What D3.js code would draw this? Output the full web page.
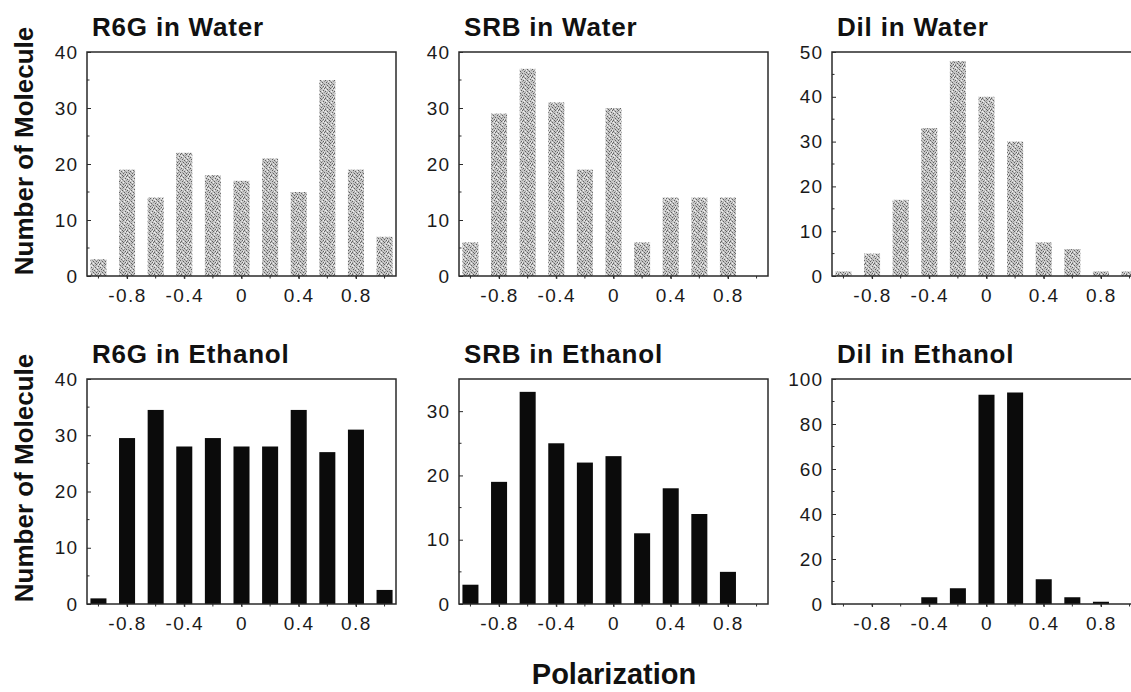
<!DOCTYPE html>
<html><head><meta charset="utf-8">
<script src="https://cdn.jsdelivr.net/npm/d3@7"></script>
<style>body{margin:0;background:#fff}svg{display:block}</style>
</head><body>
<svg id="c" width="1131" height="692"></svg>
<script>
// ---- data ----
const polarization = [-1.0,-0.8,-0.6,-0.4,-0.2,0,0.2,0.4,0.6,0.8,1.0];
const xTickValues = [-0.8,-0.4,0,0.4,0.8];
const xTickLabels = ["-0.8","-0.4","0","0.4","0.8"];
const r6gWater   = [3,19,14,22,18,17,21,15,35,19,7];
const srbWater   = [6,29,37,31,19,30,6,14,14,14,0];
const dilWater   = [1,5,17,33,48,40,30,7.5,6,1,1];
const r6gEthanol = [1,29.5,34.5,28,29.5,28,28,34.5,27,31,2.5];
const srbEthanol = [3,19,33,25,22,23,11,18,14,5,0];
const dilEthanol = [0,0,0,3,7,93,94,11,3,1,0];
const titles = ["R6G in Water","SRB in Water","Dil in Water","R6G in Ethanol","SRB in Ethanol","Dil in Ethanol"];
const series = [r6gWater,srbWater,dilWater,r6gEthanol,srbEthanol,dilEthanol];
const yMax = [40,40,50,40,35,100];
const yTicks = [[0,10,20,30,40],[0,10,20,30,40],[0,10,20,30,40,50],[0,10,20,30,40],[0,10,20,30],[0,20,40,60,80,100]];
const yMinor = [5,5,5,5,5,10];
const yLabel = "Number of Molecule";
const xLabel = "Polarization";

const svg = d3.select("#c");
const font = "'Liberation Sans', Arial, Helvetica, sans-serif";

// stipple pattern for water bars (hand placed specks)
const defs = svg.append("defs");
const pat = defs.append("pattern").attr("id","stip").attr("patternUnits","userSpaceOnUse")
  .attr("width",9).attr("height",11);
pat.append("rect").attr("width",9).attr("height",11).attr("fill","#c8c8c8");
const dark = [[0,0],[3,1],[6,0],[1,3],[5,3],[8,2],[2,5],[4,6],[7,5],[0,7],[3,8],[6,8],[8,9],[1,10],[5,10]];
dark.forEach(([x,y])=>pat.append("rect").attr("x",x).attr("y",y).attr("width",1).attr("height",1).attr("fill","#606060"));
const mid = [[2,0],[5,1],[0,4],[3,4],[6,4],[2,7],[5,7],[8,6],[1,9],[4,9],[7,10],[4,2],[7,7]];
mid.forEach(([x,y])=>pat.append("rect").attr("x",x).attr("y",y).attr("width",1).attr("height",1).attr("fill","#999"));
const light = [[1,1],[7,3],[4,4],[0,9],[6,6],[3,10],[8,0],[2,2]];
light.forEach(([x,y])=>pat.append("rect").attr("x",x).attr("y",y).attr("width",1).attr("height",1).attr("fill","#f0f0f0"));

const lefts = [87,459,832];
const tops = [52,379], bottoms = [276,604];
const pw = 309;

series.forEach((vals,i)=>{
  const col = i%3, row = Math.floor(i/3);
  const L = lefts[col], T = tops[row], B = bottoms[row];
  const x = d3.scaleLinear().domain([-1.08,1.08]).range([L,L+pw]);
  const y = d3.scaleLinear().domain([0,yMax[i]]).range([B,T]);
  const g = svg.append("g");
  const bw = x(0.056)-x(0);
  g.selectAll("rect.bar").data(vals).join("rect").attr("class","bar")
    .attr("x",(d,j)=>x(polarization[j])-bw)
    .attr("width",bw*2)
    .attr("y",d=>y(d))
    .attr("height",d=>B-y(d))
    .attr("fill", row===0 ? "url(#stip)" : "#0b0b0b");

  // frame
  g.append("rect").attr("x",L).attr("y",T).attr("width",pw).attr("height",B-T)
    .attr("fill","none").attr("stroke","#2a2a2a").attr("stroke-width",1.5);

  // y axis
  const ya = d3.axisLeft(y).tickValues(yTicks[i]).tickSize(-4).tickPadding(9).tickFormat(d=>String(d));
  const yg = g.append("g").attr("transform",`translate(${L},0)`).call(ya);
  yg.select(".domain").remove();
  yg.selectAll("line").attr("stroke","#2a2a2a");
  yg.selectAll("text").attr("font-family",font).attr("font-size",19).attr("fill","#1a1a1a").attr("letter-spacing","1");
  const minors = d3.range(yMinor[i], yMax[i], yMinor[i]*2);
  g.selectAll("line.ymin").data(minors).join("line").attr("class","ymin")
    .attr("x1",L).attr("x2",L+2.5).attr("y1",d=>y(d)).attr("y2",d=>y(d)).attr("stroke","#2a2a2a");

  // x axis
  const xa = d3.axisBottom(x).tickValues(xTickValues).tickSize(3).tickPadding(10)
    .tickFormat((d,k)=>xTickLabels[k]);
  const xg = g.append("g").attr("transform",`translate(0,${B})`).call(xa);
  xg.select(".domain").remove();
  xg.selectAll("line").attr("stroke","#2a2a2a");
  xg.selectAll("text").attr("font-family",font).attr("font-size",19).attr("fill","#1a1a1a").attr("letter-spacing","1.5");
  g.selectAll("line.xmin").data(polarization).join("line").attr("class","xmin")
    .attr("x1",d=>x(d)).attr("x2",d=>x(d)).attr("y1",B).attr("y2",B+2.5).attr("stroke","#2a2a2a");

  // title
  g.append("text").attr("x",L+5).attr("y",T-16).text(titles[i])
    .attr("font-family",font).attr("font-weight","bold").attr("font-size",26)
    .attr("letter-spacing","0.8").attr("fill","#111");
});

// y labels
[151,478].forEach(cy=>{
  svg.append("text").attr("transform",`translate(33,${cy}) rotate(-90)`)
    .attr("text-anchor","middle").attr("font-family",font).attr("font-weight","bold")
    .attr("font-size",26).attr("fill","#111").text(yLabel);
});
svg.append("text").attr("x",614).attr("y",684).attr("text-anchor","middle")
  .attr("font-family",font).attr("font-weight","bold").attr("font-size",29).attr("fill","#111").text(xLabel);
</script>
</body></html>
